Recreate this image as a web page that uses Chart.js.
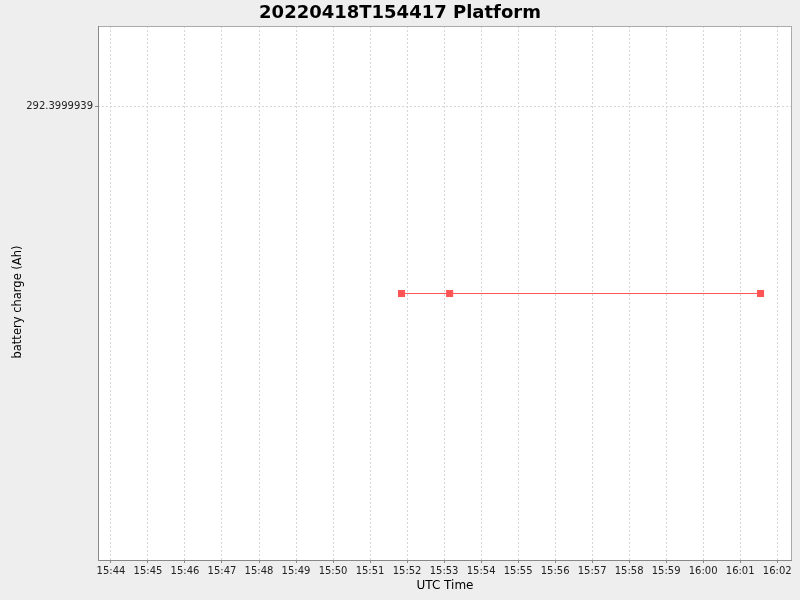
<!DOCTYPE html>
<html>
<head>
<meta charset="utf-8">
<script src="https://cdn.jsdelivr.net/npm/chart.js@4.4.1/dist/chart.umd.min.js"></script>
<style>
  html, body { margin: 0; padding: 0; background: #eeeeee; }
  #wrap { width: 800px; height: 600px; }
</style>
</head>
<body>
<div id="wrap"><canvas id="batteryChart" width="800" height="600"></canvas></div>
<script>
"use strict";

// sample times, minutes after midnight UTC
const sampleTimes = [951.85, 953.15, 961.55];
// battery charge (Ah)
const batteryCharge = [292.3999869, 292.3999869, 292.3999869];

const xTickValues = [944, 945, 946, 947, 948, 949, 950, 951, 952, 953, 954, 955, 956, 957, 958, 959, 960, 961, 962];
const yTickValues = [292.3999939];
const yTickLabels = ["292.3999939"];

const xRange = [943.65, 962.4];
const yRange = [292.3999769187, 292.3999969187];

const yAxisTitle = "battery charge (Ah)";

const fmtMinutes = (m) => {
  const h = Math.floor(m / 60);
  const mm = Math.round(m - h * 60);
  return String(h).padStart(2, "0") + ":" + String(mm).padStart(2, "0");
};

// grey page, white plot, thin border round the data area, y axis label
const plotBackground = {
  id: "plotBackground",
  beforeDraw(chart) {
    const { ctx, chartArea } = chart;
    ctx.save();
    ctx.fillStyle = "#eeeeee";
    ctx.fillRect(0, 0, chart.width, chart.height);
    ctx.fillStyle = "#ffffff";
    ctx.fillRect(chartArea.left, chartArea.top, chartArea.right - chartArea.left, chartArea.bottom - chartArea.top);
    ctx.restore();
  },
  afterDraw(chart) {
    const { ctx, chartArea } = chart;
    ctx.save();
    ctx.strokeStyle = "#aaaaaa";
    ctx.lineWidth = 1;
    ctx.strokeRect(chartArea.left + 0.5, chartArea.top + 0.5, chartArea.right - chartArea.left - 1, chartArea.bottom - chartArea.top);
    ctx.strokeStyle = "#888888";
    ctx.beginPath();
    ctx.moveTo(chartArea.left + 0.5, chartArea.top);
    ctx.lineTo(chartArea.left + 0.5, chartArea.bottom + 0.5);
    ctx.lineTo(chartArea.right, chartArea.bottom + 0.5);
    ctx.stroke();
    // rotated axis label, sitting a little below the plot centre like the original
    ctx.translate(18, (chartArea.top + chartArea.bottom) / 2 + 9);
    ctx.rotate(-Math.PI / 2);
    ctx.fillStyle = "#000000";
    ctx.font = "11.5px 'DejaVu Sans'";
    ctx.textAlign = "center";
    ctx.textBaseline = "middle";
    ctx.fillText(yAxisTitle, 0, 0);
    ctx.restore();
  },
};

const points = sampleTimes.map((t, i) => ({ x: t, y: batteryCharge[i] }));

new Chart(document.getElementById("batteryChart"), {
  type: "line",
  data: {
    datasets: [
      {
        label: "battery charge",
        data: points,
        borderColor: "#ff5555",
        borderWidth: 1,
        backgroundColor: "#ff5555",
        pointStyle: "rect",
        pointRadius: 5,
        pointBorderWidth: 0,
        pointHoverRadius: 5,
        tension: 0,
      },
    ],
  },
  options: {
    responsive: false,
    animation: false,
    events: [],
    layout: { padding: 0 },
    plugins: {
      legend: { display: false },
      tooltip: { enabled: false },
      title: {
        display: true,
        text: "20220418T154417 Platform",
        color: "#000000",
        font: { family: "DejaVu Sans", size: 18, weight: "bold" },
        padding: { top: 3, bottom: 1.4 },
      },
    },
    scales: {
      x: {
        type: "linear",
        min: xRange[0],
        max: xRange[1],
        afterBuildTicks: (scale) => {
          scale.ticks = xTickValues.map((v) => ({ value: v }));
        },
        afterFit: (scale) => {
          scale.height = 40;
        },
        ticks: {
          autoSkip: false,
          maxRotation: 0,
          minRotation: 0,
          padding: 2,
          color: "#222222",
          font: { family: "DejaVu Sans", size: 10 },
          callback: (v) => fmtMinutes(v),
        },
        grid: {
          color: "#d6d6d6",
          lineWidth: 1,
          tickLength: 3,
          tickColor: "#888888",
          tickBorderDash: [],
        },
        border: { display: false, dash: [2, 2] },
        title: {
          display: true,
          text: "UTC Time",
          color: "#000000",
          font: { family: "DejaVu Sans", size: 12 },
          padding: { top: 0, bottom: 7 },
        },
      },
      y: {
        type: "linear",
        min: yRange[0],
        max: yRange[1],
        afterBuildTicks: (scale) => {
          scale.ticks = yTickValues.map((v) => ({ value: v }));
        },
        afterFit: (scale) => {
          scale.width = 98;
        },
        ticks: {
          padding: 2,
          color: "#222222",
          font: { family: "DejaVu Sans", size: 10 },
          callback: (v, i) => yTickLabels[i],
        },
        grid: {
          color: "#d6d6d6",
          lineWidth: 1,
          tickLength: 3,
          tickColor: "#888888",
          tickBorderDash: [],
        },
        border: { display: false, dash: [2, 2] },
        title: { display: false },
      },
      // empty strip on the right so the title centres on the page
      yRight: {
        type: "linear",
        position: "right",
        min: yRange[0],
        max: yRange[1],
        ticks: { display: false },
        grid: { display: false, drawTicks: false },
        border: { display: false },
        afterFit: (scale) => {
          scale.width = 8;
        },
      },
    },
  },
  plugins: [plotBackground],
});
</script>
</body>
</html>
